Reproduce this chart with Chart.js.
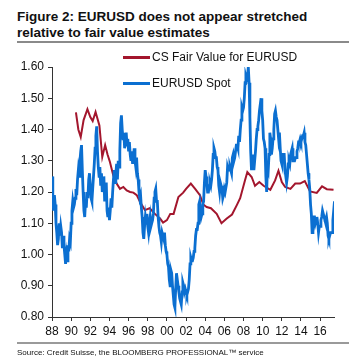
<!DOCTYPE html>
<html>
<head>
<meta charset="utf-8">
<script src="https://cdn.jsdelivr.net/npm/chart.js@4/dist/chart.umd.min.js"></script>
<style>
  html, body { margin:0; padding:0; background:#fff; }
  body { width:355px; height:363px; position:relative; overflow:hidden; font-family:"Liberation Sans", Arial, sans-serif; }
  #title { position:absolute; left:17px; top:9px; font-weight:bold; font-size:13.5px; line-height:15.5px; color:#111; white-space:nowrap; }
  #rule1 { position:absolute; left:17px; top:41px; width:332px; height:2px; background:#8a8a8a; }
  #rule2 { position:absolute; left:17px; top:342px; width:332px; height:1.5px; background:#9a9a9a; }
  #source { position:absolute; left:17px; top:347.5px; font-size:8px; color:#111; white-space:nowrap; }
  .leg { position:absolute; font-size:12px; color:#111; white-space:nowrap; line-height:14px; }
  .sw { position:absolute; height:2.5px; width:27px; }
  canvas { position:absolute; left:0; top:0; }
</style>
</head>
<body>
<div id="title">Figure 2: EURUSD does not appear stretched<br>relative to fair value estimates</div>
<div id="rule1"></div>
<canvas id="c" width="355" height="363"></canvas>
<div class="sw" style="left:123px; top:56px; background:#a3162d;"></div>
<div class="leg" style="left:152px; top:50px;">CS Fair Value for EURUSD</div>
<div class="sw" style="left:123px; top:81.5px; background:#0b6fd1; height:3px;"></div>
<div class="leg" style="left:152px; top:76px;">EURUSD Spot</div>
<div id="rule2"></div>
<div id="source">Source: Credit Suisse, the BLOOMBERG PROFESSIONAL™ service</div>
<script>
// EURUSD spot, monthly from Jan 1988
const spotStartYear = 1988;
const spotValues = [
  1.25,1.19,1.14,1.19,1.16,1.10,1.07,1.03,1.05,1.10,1.06,1.09, // 1988
  1.07,1.02,1.06,1.03,1.00,0.97,1.00,0.98,1.03,1.01,1.05,1.04, // 1989
  1.10,1.14,1.17,1.15,1.16,1.18,1.21,1.19,1.24,1.27,1.25,1.30, // 1990
  1.33,1.35,1.27,1.20,1.14,1.12,1.17,1.15,1.20,1.18,1.24,1.26, // 1991
  1.22,1.18,1.17,1.21,1.25,1.29,1.34,1.38,1.41,1.33,1.28,1.25, // 1992
  1.28,1.22,1.26,1.20,1.22,1.25,1.17,1.20,1.23,1.14,1.12,1.15, // 1993
  1.11,1.14,1.18,1.15,1.20,1.24,1.27,1.23,1.26,1.29,1.24,1.30, // 1994
  1.28,1.33,1.42,1.445,1.40,1.37,1.39,1.34,1.36,1.39,1.35,1.37, // 1995
  1.33,1.36,1.32,1.30,1.33,1.29,1.31,1.34,1.30,1.28,1.31,1.26, // 1996
  1.24,1.20,1.18,1.19,1.15,1.12,1.07,1.05,1.09,1.12,1.10,1.13, // 1997
  1.09,1.07,1.10,1.12,1.09,1.10,1.11,1.13,1.18,1.20,1.21,1.17, // 1998
  1.17,1.12,1.09,1.07,1.06,1.04,1.07,1.06,1.05,1.07,1.03,1.01, // 1999
  1.00,0.97,0.96,0.92,0.90,0.95,0.94,0.90,0.87,0.84,0.83,0.89, // 2000
  0.94,0.92,0.90,0.88,0.86,0.85,0.84,0.88,0.91,0.90,0.88,0.89, // 2001
  0.88,0.87,0.88,0.89,0.92,0.97,0.99,0.98,0.98,0.99,1.01,1.02, // 2002
  1.06,1.08,1.08,1.10,1.16,1.17,1.14,1.12,1.13,1.16,1.17,1.23, // 2003
  1.27,1.25,1.23,1.20,1.20,1.22,1.23,1.22,1.24,1.27,1.32,1.34, // 2004
  1.33,1.31,1.31,1.28,1.27,1.22,1.20,1.23,1.22,1.21,1.18,1.19, // 2005
  1.21,1.20,1.20,1.23,1.28,1.27,1.27,1.28,1.27,1.26,1.31,1.32, // 2006
  1.30,1.31,1.33,1.35,1.35,1.34,1.38,1.36,1.40,1.43,1.47,1.46, // 2007
  1.47,1.50,1.55,1.57,1.56,1.57,1.60,1.55,1.44,1.33,1.27,1.30, // 2008
  1.32,1.27,1.30,1.33,1.37,1.40,1.41,1.43,1.46,1.48,1.50,1.46, // 2009
  1.43,1.37,1.36,1.34,1.25,1.20,1.28,1.27,1.32,1.39,1.37,1.32, // 2010
  1.34,1.37,1.40,1.45,1.46,1.44,1.43,1.43,1.37,1.39,1.34,1.30, // 2011
  1.29,1.32,1.32,1.32,1.27,1.25,1.23,1.25,1.29,1.30,1.29,1.32, // 2012
  1.33,1.34,1.30,1.30,1.30,1.31,1.31,1.33,1.34,1.36,1.36,1.37, // 2013
  1.36,1.37,1.38,1.38,1.39,1.36,1.35,1.32,1.29,1.26,1.24,1.21, // 2014
  1.16,1.13,1.07,1.08,1.12,1.12,1.10,1.11,1.12,1.10,1.07,1.09, // 2015
  1.09,1.11,1.12,1.14,1.13,1.12,1.11,1.11,1.12,1.10,1.06,1.05, // 2016
  1.06,1.07,1.07,1.07,1.11,1.14,1.17                          // 2017
];

// CS Fair Value for EURUSD
const fairYears = [1990.5,1990.75,1991.0,1991.3,1991.7,1992.0,1992.25,1992.55,1992.95,1993.25,1993.55,1993.8,1994.05,1994.4,1994.75,1995.1,1995.45,1995.8,1996.15,1996.5,1996.85,1997.2,1997.7,1998.2,1998.75,1999.3,1999.6,2000.0,2000.35,2000.7,2001.2,2001.7,2002.0,2002.5,2002.95,2003.45,2003.8,2004.15,2004.6,2005.2,2005.7,2006.25,2006.8,2007.3,2007.65,2008.15,2008.4,2008.85,2009.2,2009.65,2010.1,2010.8,2011.3,2011.65,2012.0,2012.35,2012.9,2013.4,2013.9,2014.4,2014.95,2015.65,2016.2,2016.7,2017.4];
const fairValues = [1.455,1.40,1.376,1.43,1.465,1.44,1.427,1.456,1.413,1.312,1.35,1.32,1.296,1.253,1.227,1.21,1.216,1.205,1.20,1.198,1.19,1.168,1.142,1.148,1.13,1.115,1.102,1.11,1.13,1.13,1.184,1.198,1.21,1.227,1.21,1.19,1.16,1.152,1.148,1.13,1.10,1.115,1.128,1.158,1.18,1.237,1.264,1.248,1.22,1.232,1.22,1.207,1.237,1.268,1.232,1.216,1.21,1.227,1.227,1.235,1.202,1.197,1.218,1.209,1.207];

const xTickValues = [1988,1990,1992,1994,1996,1998,2000,2002,2004,2006,2008,2010,2012,2014,2016];
const xTickLabels = ["88","90","92","94","96","98","00","02","04","06","08","10","12","14","16"];
const yTickValues = [0.80,0.90,1.00,1.10,1.20,1.30,1.40,1.50,1.60];

const spotData = spotValues.map((v,i) => ({x: spotStartYear + i/12, y: v}));
const fairData = fairValues.map((v,i) => ({x: fairYears[i], y: v}));

const font = {family: "'Liberation Sans', Arial, sans-serif", size: 12};

new Chart(document.getElementById('c'), {
  type: 'line',
  data: {
    datasets: [
      {label: 'EURUSD Spot', data: spotData, borderColor: '#0b6fd1', borderWidth: 2.8, pointRadius: 0, tension: 0, order: 0},
      {label: 'CS Fair Value for EURUSD', data: fairData, borderColor: '#a3162d', borderWidth: 2, pointRadius: 0, tension: 0, order: 1}
    ]
  },
  options: {
    responsive: false,
    animation: false,
    devicePixelRatio: 1,
    layout: {padding: {left: 0, right: 21, top: 67, bottom: 22}},
    plugins: {legend: {display: false}, tooltip: {enabled: false}},
    scales: {
      x: {
        type: 'linear', min: 1988, max: 2017.45,
        afterFit: s => { s.height = 24; },
        afterBuildTicks: s => { s.ticks = xTickValues.map(v => ({value: v})); },
        ticks: {font, color: '#111', padding: 3, maxRotation: 0, autoSkip: false,
          callback: (v) => { const i = xTickValues.indexOf(v); return i >= 0 ? xTickLabels[i] : ''; }},
        grid: {drawOnChartArea: false, drawTicks: true, tickLength: 4, color: '#333'},
        border: {display: true, color: '#333', width: 1}
      },
      y: {
        type: 'linear', min: 0.80, max: 1.60,
        afterFit: s => { s.width = 52; },
        afterBuildTicks: s => { s.ticks = yTickValues.map(v => ({value: v})); },
        ticks: {font, color: '#111', padding: 4, callback: v => Number(v).toFixed(2)},
        grid: {drawOnChartArea: false, drawTicks: true, tickLength: 4, color: '#333'},
        border: {display: true, color: '#333', width: 1}
      }
    }
  }
});
</script>
</body>
</html>
